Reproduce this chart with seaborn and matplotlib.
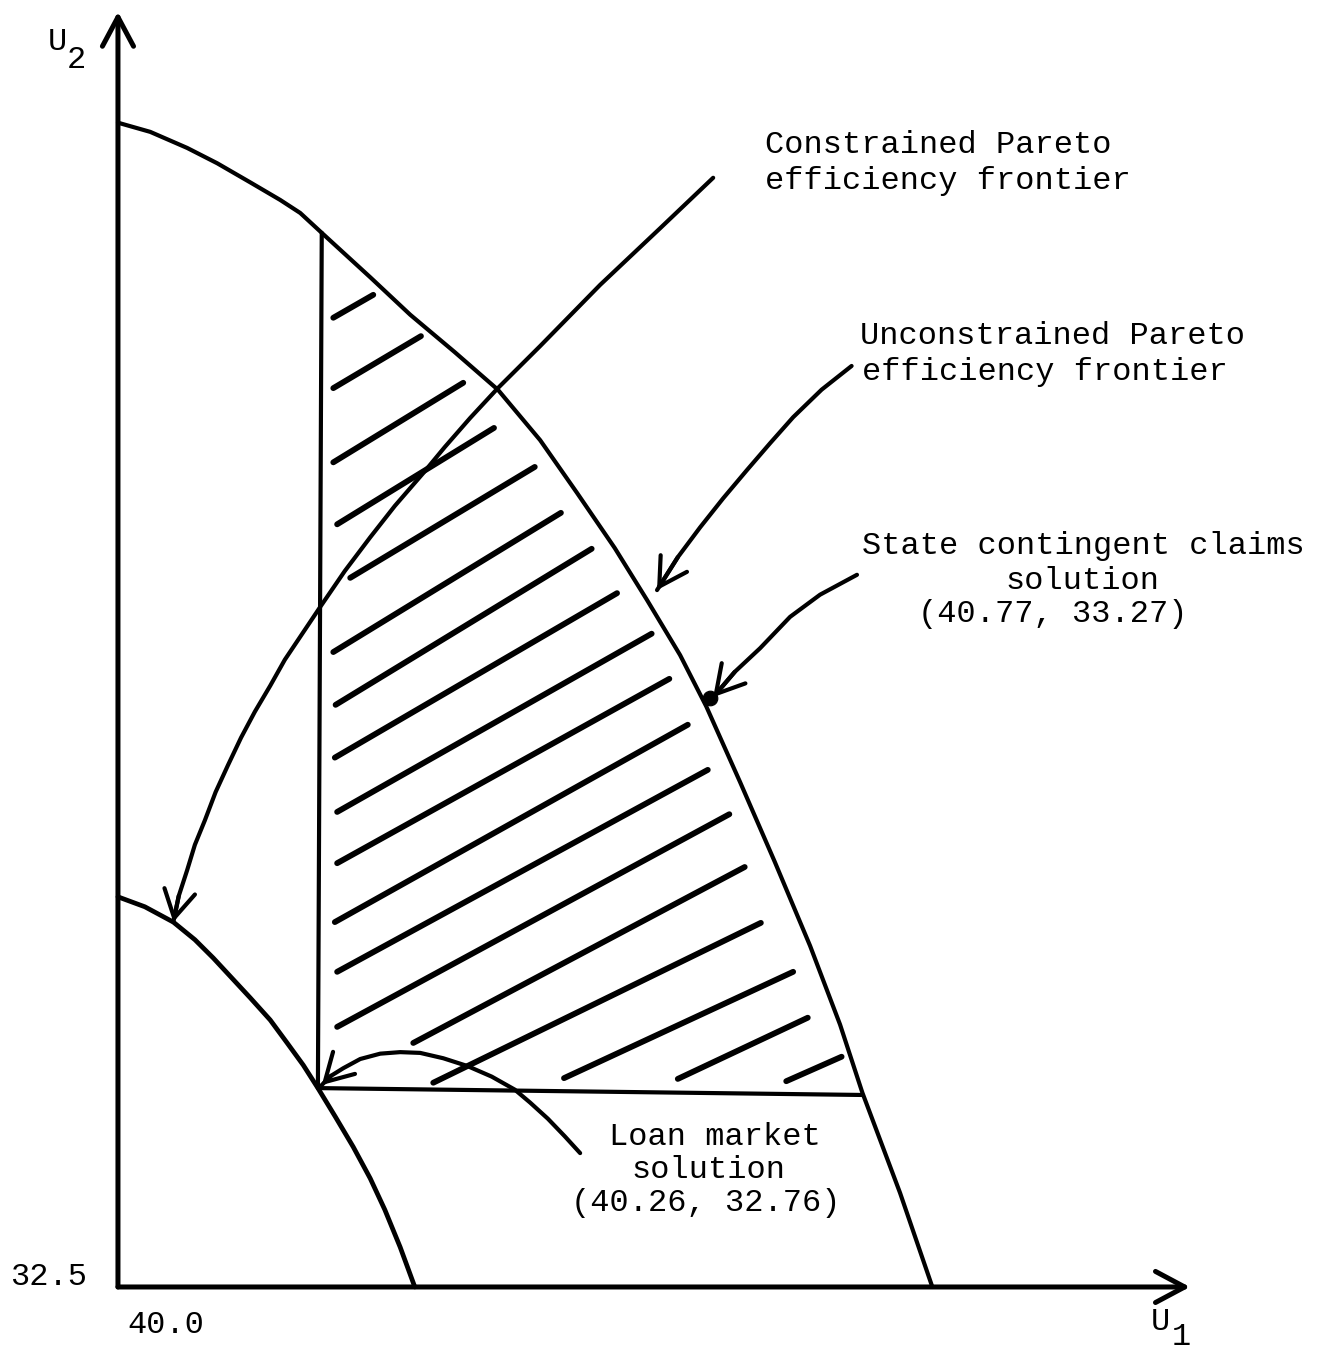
import matplotlib.pyplot as plt
import numpy as np
import pandas as pd
import seaborn as sns

# --- data (U1, U2 utility space) ---
# unconstrained Pareto efficiency frontier
outer_u1 = [40.000, 40.042, 40.090, 40.129, 40.172, 40.211, 40.237, 40.265, 40.328, 40.380,
            40.438, 40.494, 40.549, 40.597, 40.646, 40.688, 40.731, 40.765, 40.809, 40.854,
            40.900, 40.939, 40.968, 41.017, 41.059]
outer_u2 = [34.022, 34.010, 33.989, 33.969, 33.944, 33.921, 33.904, 33.878, 33.820, 33.771,
            33.722, 33.673, 33.607, 33.538, 33.466, 33.398, 33.326, 33.259, 33.160, 33.056,
            32.946, 32.843, 32.754, 32.623, 32.500]

# constrained Pareto efficiency frontier
inner_u1 = [40.000, 40.035, 40.072, 40.100, 40.124, 40.148, 40.172, 40.198, 40.220, 40.241,
            40.260, 40.283, 40.306, 40.328, 40.347, 40.367, 40.386]
inner_u2 = [33.010, 32.997, 32.977, 32.954, 32.930, 32.904, 32.878, 32.849, 32.819, 32.790,
            32.760, 32.722, 32.683, 32.642, 32.601, 32.552, 32.500]

# solutions
loan_solution = (40.26, 32.76)
claims_solution = (40.77, 33.27)

# boundary of the shaded region (vertical + horizontal edges)
vert_u1 = [40.265, 40.260]
vert_u2 = [33.878, 32.760]
horiz_u1 = [40.260, 40.968]
horiz_u2 = [32.760, 32.751]

# hatch strokes inside the shaded region
hatch_x0 = [40.280, 40.280, 40.280, 40.285, 40.302, 40.280, 40.283, 40.282, 40.285,
            40.285, 40.282, 40.285, 40.285, 40.384, 40.410, 40.580, 40.728, 40.869]
hatch_y0 = [33.767, 33.675, 33.578, 33.497, 33.427, 33.330, 33.261, 33.192, 33.121,
            33.054, 32.977, 32.912, 32.840, 32.819, 32.767, 32.773, 32.772, 32.769]
hatch_x1 = [40.332, 40.394, 40.449, 40.489, 40.542, 40.576, 40.616, 40.649, 40.694,
            40.717, 40.741, 40.767, 40.795, 40.815, 40.836, 40.878, 40.897, 40.941]
hatch_y1 = [33.797, 33.743, 33.682, 33.623, 33.572, 33.512, 33.465, 33.407, 33.354,
            33.295, 33.235, 33.176, 33.118, 33.049, 32.976, 32.912, 32.852, 32.801]

# annotation arrows (tail -> tip)
arr_constrained_u1 = [40.774, 40.705, 40.627, 40.549, 40.494, 40.458, 40.425, 40.397,
                      40.360, 40.328, 40.295, 40.263, 40.237, 40.217, 40.198, 40.178,
                      40.160, 40.143, 40.127, 40.113, 40.100, 40.090, 40.079, 40.072]
arr_constrained_u2 = [33.950, 33.884, 33.810, 33.730, 33.675, 33.636, 33.598, 33.564,
                      33.521, 33.480, 33.436, 33.389, 33.350, 33.320, 33.286, 33.252,
                      33.218, 33.182, 33.147, 33.110, 33.078, 33.045, 33.011, 32.977]
arr_unconstrained_u1 = [40.954, 40.915, 40.878, 40.848, 40.818, 40.787, 40.757, 40.728, 40.701]
arr_unconstrained_u2 = [33.704, 33.673, 33.637, 33.603, 33.568, 33.531, 33.493, 33.454, 33.411]
arr_claims_u1 = [40.961, 40.913, 40.874, 40.835, 40.802, 40.774]
arr_claims_u2 = [33.431, 33.405, 33.376, 33.335, 33.304, 33.271]
arr_loan_u1 = [40.601, 40.581, 40.559, 40.536, 40.516, 40.486, 40.454, 40.423, 40.393,
               40.367, 40.341, 40.315, 40.293, 40.277, 40.265]
arr_loan_u2 = [32.675, 32.697, 32.720, 32.741, 32.758, 32.775, 32.789, 32.799, 32.806,
               32.807, 32.805, 32.798, 32.786, 32.776, 32.764]

axis_origin = (40.0, 32.5)
axis_x_end = 41.394
axis_y_end = 34.167

W, H = 1326, 1352

sns.set_style('white')
plt.rcParams['font.family'] = ['Liberation Mono', 'DejaVu Sans Mono']

fig = plt.figure(figsize=(W / 100, H / 100), dpi=100)
ax = fig.add_axes([0, 0, 1, 1])
ax.set_xlim(39.8466, 41.5709)
ax.set_ylim(32.415, 34.1824)
ax.axis('off')

ink = 'black'
curve_kw = dict(color=ink, sort=False, estimator=None, solid_joinstyle='round',
                solid_capstyle='round')

# frontiers and region edges
sns.lineplot(x=outer_u1, y=outer_u2, lw=3.0, ax=ax, **curve_kw)
sns.lineplot(x=inner_u1, y=inner_u2, lw=3.4, ax=ax, **curve_kw)
sns.lineplot(x=vert_u1, y=vert_u2, lw=3.0, ax=ax, **curve_kw)
sns.lineplot(x=horiz_u1, y=horiz_u2, lw=3.0, ax=ax, **curve_kw)

# hatching
n = len(hatch_x0)
hatch = pd.DataFrame({
    'seg': np.repeat(np.arange(n), 2),
    'u1': np.ravel(np.column_stack([hatch_x0, hatch_x1])),
    'u2': np.ravel(np.column_stack([hatch_y0, hatch_y1])),
})
sns.lineplot(data=hatch, x='u1', y='u2', units='seg', lw=4.2, ax=ax, **curve_kw)

# axes with open arrow heads
head = '->,head_length=0.75,head_width=0.4'
ax.annotate('', xy=(axis_origin[0], axis_y_end), xytext=axis_origin,
            arrowprops=dict(arrowstyle=head, lw=3.6, color=ink, shrinkA=0, shrinkB=0,
                            mutation_scale=28))
ax.annotate('', xy=(axis_x_end, axis_origin[1]), xytext=axis_origin,
            arrowprops=dict(arrowstyle=head, lw=3.6, color=ink, shrinkA=0, shrinkB=0,
                            mutation_scale=28))

# curved pointer arrows
for xs, ys in [(arr_constrained_u1, arr_constrained_u2),
               (arr_unconstrained_u1, arr_unconstrained_u2),
               (arr_claims_u1, arr_claims_u2),
               (arr_loan_u1, arr_loan_u2)]:
    sns.lineplot(x=xs, y=ys, lw=3.0, ax=ax, **curve_kw)
    ax.annotate('', xy=(xs[-1], ys[-1]), xytext=(xs[-2], ys[-2]),
                arrowprops=dict(arrowstyle='->,head_length=0.7,head_width=0.4', lw=3.0,
                                color=ink, shrinkA=0, shrinkB=0, mutation_scale=28))

sns.scatterplot(x=[claims_solution[0]], y=[claims_solution[1]], s=110, color=ink,
                edgecolor=ink, ax=ax, zorder=5)

# text
fs = 23


def put(s, x, y, ha='left', size=fs):
    fig.text(x / W, 1 - y / H, s, ha=ha, va='baseline', fontsize=size, color=ink)


put('U', 48, 50)
put('2', 67, 68)
put('U', 1151, 1330)
put('1', 1172, 1345)
put('32.5', 10, 1285)
put('40.0', 127, 1333)

put('Constrained Pareto', 765, 153)
put('efficiency frontier', 765, 189)
put('Unconstrained Pareto', 860, 344)
put('efficiency frontier', 862, 380)
put('State contingent claims', 862, 554)
put('solution', 1082, 589, ha='center')
put(f'({claims_solution[0]}, {claims_solution[1]})', 1053, 622, ha='center')
put('Loan market', 715, 1145, ha='center')
put('solution', 708, 1178, ha='center')
put(f'({loan_solution[0]}, {loan_solution[1]})', 706, 1211, ha='center')

fig.savefig('out.png', dpi=100, facecolor='white')
